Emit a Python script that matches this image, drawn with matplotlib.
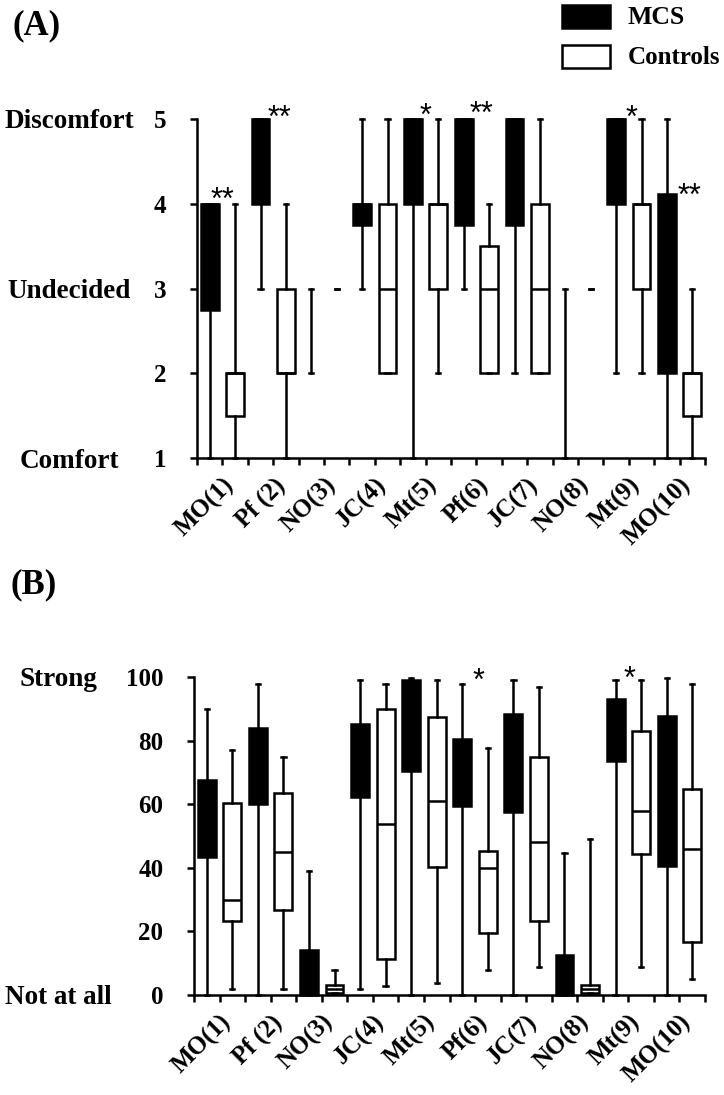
import numpy as np
import matplotlib
matplotlib.use("Agg")
import matplotlib.pyplot as plt
from matplotlib.patches import Rectangle

plt.rcParams['font.family'] = ['Liberation Serif', 'DejaVu Serif']
plt.rcParams['font.weight'] = 'bold'

items = ['MO(1)', 'Pf (2)', 'NO(3)', 'JC(4)', 'Mt(5)', 'Pf(6)', 'JC(7)', 'NO(8)', 'Mt(9)', 'MO(10)']

# (A) comfort rating, 1-5
a_mcs_lo = [1, 3, 2, 3, 1, 3, 2, 1, 2, 1]
a_mcs_q1 = [2.75, 4, 2, 3.75, 4, 3.75, 3.75, 1, 4, 2]
a_mcs_med = [4, 5, 2, 4, 5, 5, 5, 1, 5, 3]
a_mcs_q3 = [4, 5, 2, 4, 5, 5, 5, 1, 5, 4.12]
a_mcs_hi = [4, 5, 3, 5, 5, 5, 5, 3, 5, 5]

a_ctl_lo = [1, 1, 3, 2, 2, 2, 2, 3, 2, 1]
a_ctl_q1 = [1.5, 2, 3, 2, 3, 2, 2, 3, 3, 1.5]
a_ctl_med = [2, 2, 3, 3, 4, 3, 3, 3, 4, 2]
a_ctl_q3 = [2, 3, 3, 4, 4, 3.5, 4, 3, 4, 2]
a_ctl_hi = [4, 4, 3, 5, 5, 4, 5, 3, 5, 3]

# (B) intensity, 0-100
b_mcs_lo = [0, 0, 0, 1.8, 0, 0, 0, 0, 0, 0]
b_mcs_q1 = [43.5, 60.2, 0, 62.3, 70.5, 59.4, 57.4, 0, 73.5, 40.7]
b_mcs_med = [55, 72, 5, 75, 88, 70, 75, 4, 85, 65]
b_mcs_q3 = [67.5, 84.1, 14.1, 85.3, 99.2, 80.4, 88.3, 12.6, 93, 87.6]
b_mcs_hi = [89.8, 97.9, 39, 99, 99.7, 97.9, 99, 44.8, 99, 99.8]

b_ctl_lo = [1.8, 1.8, 0.7, 2.8, 3.7, 7.9, 8.9, 0.7, 8.9, 4.9]
b_ctl_q1 = [23.4, 26.7, 0.7, 11.2, 40.3, 19.4, 23.4, 0.7, 44.3, 16.8]
b_ctl_med = [29.8, 45, 2, 53.9, 61, 40, 48, 2, 57.8, 45.9]
b_ctl_q3 = [60.4, 63.6, 3.1, 90, 87.4, 45.3, 74.9, 3, 82.9, 64.8]
b_ctl_hi = [77, 74.9, 7.9, 97.9, 99, 77.8, 96.9, 48.9, 99, 97.9]

# significance marks: (x position, y value, text)
a_sig_x = [1.02, 3.23, 8.98, 11.2, 17.1, 19.4]
a_sig_y = [4.15, 5.12, 5.14, 5.16, 5.12, 4.2]
a_sig_txt = ['**', '**', '*', '**', '*', '**']
b_sig_x = [11.15, 17.06]
b_sig_y = [101.6, 102.2]
b_sig_txt = ['*', '*']

W, H = 724, 1095
LW = 1.8
fig = plt.figure(figsize=(W / 100, H / 100), dpi=100)


def stats(lo, q1, med, q3, hi):
    return [dict(whislo=a, q1=b, med=c, q3=d, whishi=e, fliers=[])
            for a, b, c, d, e in zip(lo, q1, med, q3, hi)]


def draw_group(ax, st, pos, face):
    res = ax.bxp(st, positions=pos, widths=0.7, capwidths=0.17, patch_artist=True,
                 showfliers=False, manage_ticks=False,
                 boxprops=dict(facecolor=face, edgecolor='black', linewidth=LW),
                 medianprops=dict(color='black', linewidth=LW),
                 whiskerprops=dict(color='black', linewidth=LW),
                 capprops=dict(color='black', linewidth=LW))
    for k, s in enumerate(st):
        if s['q1'] == s['q3']:
            res['boxes'][k].set_visible(False)
            res['medians'][k].set_visible(False)
    for key in res:
        for art in res[key]:
            art.set_clip_on(False)


def setup(ax, ylim, yticks, cats, cat_x):
    ax.set_xlim(0, 20)
    ax.set_ylim(*ylim)
    for s in ['top', 'right']:
        ax.spines[s].set_visible(False)
    for s in ['left', 'bottom']:
        ax.spines[s].set_linewidth(LW)
    ax.set_yticks(yticks)
    ax.tick_params(axis='y', direction='out', length=5, width=LW, pad=17, labelsize=18)
    ax.set_xticks(np.arange(1, 20, 2))
    ax.set_xticklabels(items, rotation=45, ha='right', rotation_mode='anchor',
                       fontsize=18, fontweight='bold')
    ax.set_xticks(np.arange(0, 21, 2), minor=True)
    ax.tick_params(axis='x', which='both', direction='out', length=5, width=LW, pad=6)
    for lab in ax.get_yticklabels():
        lab.set_fontweight('bold')
    for txt, yv in cats:
        ax.text(cat_x, yv, txt, transform=ax.get_yaxis_transform(), ha='center',
                va='center_baseline', fontsize=19.5, fontweight='bold')


def stars(ax, xs, ys, labels):
    for x, y, t in zip(xs, ys, labels):
        ax.annotate(t, (x, y), xytext=(0, -7), textcoords='offset points',
                    ha='center', va='center', fontsize=22, family='Liberation Sans',
                    fontweight='normal', annotation_clip=False)


pos_mcs = np.arange(10) * 2 + 0.5
pos_ctl = np.arange(10) * 2 + 1.5

axA = fig.add_axes([197 / W, 1 - 458 / H, 508 / W, 339 / H])
setup(axA, (1, 5), [1, 2, 3, 4, 5],
      [('Discomfort', 5), ('Undecided', 3), ('Comfort', 1)], -0.252)
draw_group(axA, stats(a_mcs_lo, a_mcs_q1, a_mcs_med, a_mcs_q3, a_mcs_hi), pos_mcs, 'black')
draw_group(axA, stats(a_ctl_lo, a_ctl_q1, a_ctl_med, a_ctl_q3, a_ctl_hi), pos_ctl, 'white')
stars(axA, a_sig_x, a_sig_y, a_sig_txt)

axB = fig.add_axes([194 / W, 1 - 995 / H, 511 / W, 318 / H])
setup(axB, (0, 100), [0, 20, 40, 60, 80, 100],
      [('Strong', 100), ('Not at all', 0)], -0.266)
draw_group(axB, stats(b_mcs_lo, b_mcs_q1, b_mcs_med, b_mcs_q3, b_mcs_hi), pos_mcs, 'black')
draw_group(axB, stats(b_ctl_lo, b_ctl_q1, b_ctl_med, b_ctl_q3, b_ctl_hi), pos_ctl, 'white')
stars(axB, b_sig_x, b_sig_y, b_sig_txt)

# panel labels
fig.text(12 / W, 1 - 26 / H, '(A)', fontsize=25, fontweight='bold', va='center')
fig.text(10 / W, 1 - 585 / H, '(B)', fontsize=25, fontweight='bold', va='center')

# legend
fig.patches.append(Rectangle((562 / W, 1 - 28 / H), 48 / W, 23 / H, transform=fig.transFigure,
                             facecolor='black', edgecolor='black', linewidth=LW))
fig.patches.append(Rectangle((562 / W, 1 - 68 / H), 48 / W, 23 / H, transform=fig.transFigure,
                             facecolor='white', edgecolor='black', linewidth=LW))
fig.text(628 / W, 1 - 17 / H, 'MCS', fontsize=18.5, fontweight='bold', va='center')
fig.text(628 / W, 1 - 57 / H, 'Controls', fontsize=18, fontweight='bold', va='center')

fig.savefig('out.png', dpi=100)
